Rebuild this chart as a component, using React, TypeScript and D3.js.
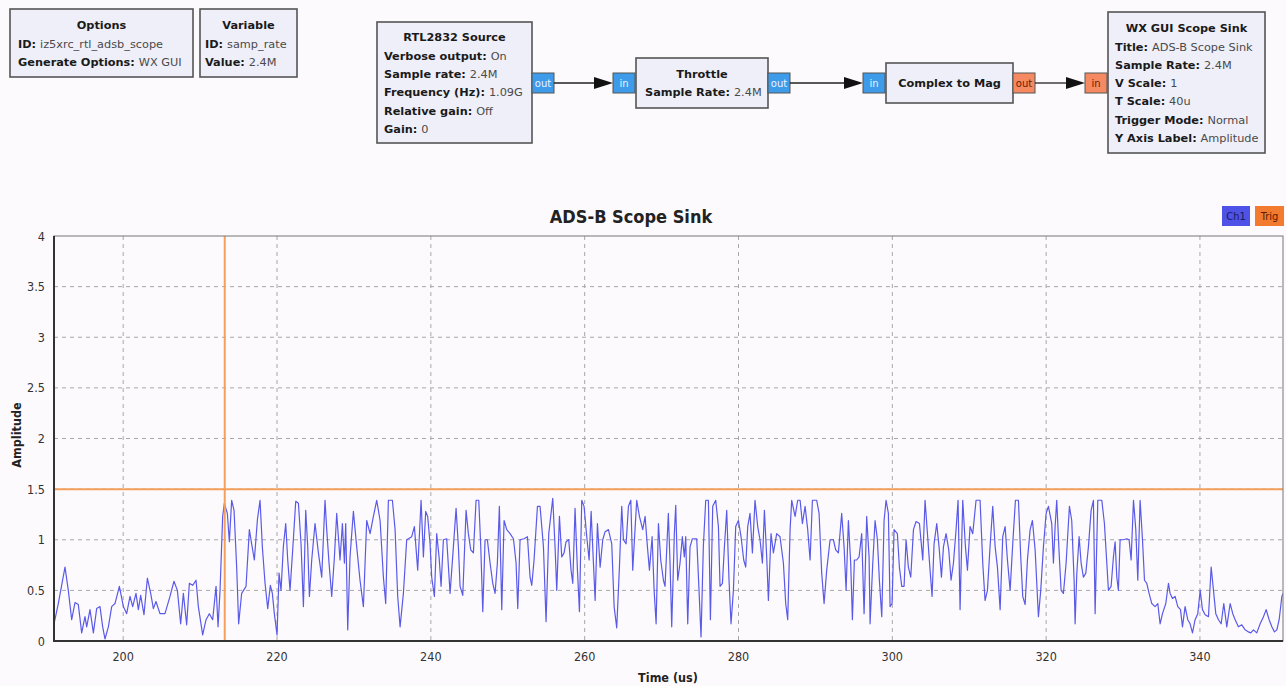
import * as d3 from 'd3'

// ---- flowgraph text ----
const optionsRows = [['ID', 'iz5xrc_rtl_adsb_scope'], ['Generate Options', 'WX GUI']]
const variableRows = [['ID', 'samp_rate'], ['Value', '2.4M']]
const sourceRows = [
  ['Verbose output', 'On'],
  ['Sample rate', '2.4M'],
  ['Frequency (Hz)', '1.09G'],
  ['Relative gain', 'Off'],
  ['Gain', '0'],
]
const throttleRows = [['Sample Rate', '2.4M']]
const sinkRows = [
  ['Title', 'ADS-B Scope Sink'],
  ['Sample Rate', '2.4M'],
  ['V Scale', '1'],
  ['T Scale', '40u'],
  ['Trigger Mode', 'Normal'],
  ['Y Axis Label', 'Amplitude'],
]

// ---- scope data ----
const xTicks = [200, 220, 240, 260, 280, 300, 320, 340]
const yTicks = [0, 0.5, 1, 1.5, 2, 2.5, 3, 3.5, 4]
const timeDomain = [191, 350.8]
const triggerTime = 213.2
const triggerLevel = 1.5

// Ch1 trace, [time us, amplitude]
const ch1A = [
  [191.0, 0.17], [191.56, 0.37], [192.43, 0.73], [192.86, 0.5], [193.3, 0.21], [193.73, 0.38], [194.16, 0.36],
  [194.6, 0.08], [195.03, 0.24], [195.25, 0.14], [195.68, 0.31], [196.12, 0.08], [196.55, 0.32], [196.98, 0.34],
  [197.33, 0.14], [197.63, 0.02], [198.07, 0.14], [198.5, 0.34], [198.93, 0.37], [199.5, 0.54], [200.02, 0.34],
  [200.45, 0.27], [200.88, 0.44], [201.23, 0.34], [201.66, 0.47], [201.97, 0.31], [202.27, 0.45], [202.7, 0.26],
  [203.14, 0.62], [203.57, 0.47], [203.92, 0.32], [204.26, 0.39], [204.78, 0.27], [205.43, 0.27], [206.08, 0.44],
  [206.6, 0.59], [207.04, 0.5], [207.47, 0.17], [207.82, 0.47], [208.25, 0.16], [208.6, 0.57], [209.03, 0.55],
  [209.47, 0.6], [209.77, 0.34], [210.33, 0.06], [210.77, 0.21], [211.2, 0.27], [211.63, 0.21], [212.07, 0.54],
  [212.33, 0.14], [212.59, 0.5], [212.93, 1.23], [213.15, 1.36], [213.54, 1.26], [213.8, 0.98], [214.1, 1.39],
  [214.41, 1.29], [214.75, 0.73], [215.01, 0.17], [215.4, 0.47], [215.97, 0.54], [216.4, 1.1], [216.7, 0.96],
  [217.05, 0.8], [217.45, 1.2],
]
const ch1B = [
  [217.79, 1.39], [218.09, 0.93], [218.44, 0.57], [218.79, 0.32], [219.13, 0.55], [219.39, 0.47], [219.65, 0.27],
  [220.0, 0.06], [220.26, 0.67], [220.52, 0.5], [220.82, 0.93], [221.13, 1.16], [221.39, 0.8], [221.69, 0.5],
  [222.12, 1.0], [222.43, 1.38], [222.78, 1.36], [223.12, 0.96], [223.43, 0.34], [223.73, 1.29], [223.99, 0.93],
  [224.21, 0.44], [224.51, 0.8], [224.94, 1.16], [225.38, 0.87], [225.81, 0.63], [226.24, 1.39], [226.46, 1.1],
  [226.76, 0.77], [227.11, 0.44], [227.46, 0.83], [227.76, 1.26], [228.19, 0.8], [228.5, 1.16], [228.76, 0.77],
  [228.93, 1.16], [229.19, 0.11], [229.49, 0.83], [229.93, 1.28], [230.36, 0.93], [230.79, 0.6], [231.23, 0.34],
  [231.66, 1.19], [232.1, 1.06], [232.53, 1.23], [232.96, 1.39], [233.4, 1.19], [233.83, 0.63], [234.13, 0.37],
  [234.48, 1.39], [235.0, 1.39], [235.35, 1.1], [235.69, 0.44], [236.0, 0.14], [236.43, 0.47], [236.86, 1.0],
  [237.51, 1.03], [237.86, 1.13], [238.29, 0.7], [238.73, 1.39], [239.03, 0.83], [239.33, 1.28], [239.59, 1.23],
  [239.9, 0.96], [240.11, 0.63], [240.46, 0.44], [240.76, 1.06], [241.07, 0.83], [241.33, 0.54], [241.63, 1.0],
  [242.06, 1.01], [242.5, 0.47], [242.93, 0.93], [243.28, 1.31], [243.58, 0.93],
]
const ch1C = [
  [243.8, 0.54], [244.15, 0.45], [244.58, 1.29], [244.88, 1.06], [245.19, 0.9], [245.53, 0.87], [245.88, 1.39],
  [246.23, 1.39], [246.49, 0.93], [246.75, 0.29], [247.05, 1.0], [247.35, 1.0], [247.7, 0.77], [248.05, 0.57],
  [248.35, 0.47], [248.65, 0.77], [248.91, 1.33], [249.22, 0.31], [249.52, 1.19], [249.87, 1.1], [250.3, 1.06],
  [250.74, 1.01], [251.08, 0.77], [251.3, 0.32], [251.6, 1.0], [252.12, 1.01], [252.56, 1.03], [252.9, 0.63],
  [253.12, 0.55], [253.42, 0.8], [253.86, 1.33], [254.2, 1.33], [254.64, 0.93], [254.98, 0.19], [255.33, 1.06],
  [255.85, 1.41], [256.15, 0.93], [256.37, 0.5], [256.72, 1.23], [257.02, 0.83], [257.32, 0.87], [257.58, 0.98],
  [257.93, 1.0], [258.23, 0.7], [258.45, 0.57], [258.75, 1.31], [259.06, 0.7], [259.32, 0.29], [259.62, 1.39],
  [259.92, 1.33], [260.27, 1.03], [260.58, 0.8], [260.84, 1.28], [261.14, 0.77], [261.36, 0.4], [261.66, 1.16],
  [262.01, 0.73], [262.35, 1.0], [262.66, 1.08], [263.09, 1.1], [263.52, 0.96], [263.83, 0.34], [264.17, 0.13],
  [264.52, 0.73], [264.82, 1.33], [265.04, 1.0], [265.39, 0.96], [265.69, 1.33], [266.0, 1.39], [266.25, 0.7],
  [266.47, 1.0], [266.77, 1.39], [267.12, 1.23], [267.55, 1.1], [267.86, 1.23], [268.16, 0.93], [268.42, 0.7],
  [268.77, 1.03], [269.03, 0.5], [269.29, 0.17], [269.59, 1.16], [269.89, 0.8], [270.24, 0.6],
]
const ch1D = [
  [270.45, 0.54], [270.88, 1.26], [271.1, 0.77], [271.32, 0.14], [271.66, 1.06], [271.84, 1.34], [272.1, 0.6],
  [272.4, 0.77], [272.7, 1.03], [272.96, 0.83], [273.14, 1.03], [273.4, 0.17], [273.7, 0.93], [274.0, 1.01],
  [274.57, 1.01], [274.87, 0.5], [275.13, 0.04], [275.43, 0.93], [275.74, 1.39], [276.09, 1.39], [276.35, 0.21],
  [276.65, 1.33], [277.04, 1.39], [277.39, 1.13], [277.6, 0.54], [277.91, 0.57], [278.17, 0.93], [278.47, 1.29],
  [278.77, 0.6], [279.03, 0.17], [279.34, 0.5], [279.64, 1.13], [279.99, 1.19], [280.33, 1.03], [280.68, 0.8],
  [280.94, 0.73], [281.2, 1.13], [281.5, 1.26], [281.81, 0.87], [282.15, 1.39], [282.5, 1.13], [282.8, 1.0],
  [283.11, 0.77], [283.37, 1.29], [283.67, 0.83], [283.89, 0.4], [284.23, 1.06], [284.54, 0.87], [284.97, 1.06],
  [285.4, 1.03], [285.84, 0.77], [286.14, 0.37], [286.4, 0.21], [286.71, 1.1], [286.92, 1.39], [287.36, 1.23],
  [287.7, 1.39], [288.01, 1.39], [288.31, 1.16], [288.66, 1.33], [289.0, 1.1], [289.31, 0.8], [289.61, 1.39],
  [290.17, 1.39], [290.48, 1.26], [290.82, 0.67], [291.13, 0.37], [291.47, 0.7], [291.91, 1.0], [292.34, 1.0],
  [292.64, 0.9], [292.99, 0.87], [293.42, 1.26], [293.73, 0.93], [293.99, 0.5], [294.29, 1.19], [294.59, 0.77],
  [294.81, 0.21], [295.07, 0.8], [295.37, 0.8], [295.68, 0.83], [296.02, 1.06], [296.33, 0.27], [296.67, 1.23],
  [296.98, 0.83],
]
const ch1E = [
  [297.11, 0.17], [297.46, 0.77], [297.76, 1.19], [298.06, 1.0], [298.32, 0.6], [298.63, 0.24], [298.93, 1.19],
  [299.19, 1.39], [299.49, 1.26], [299.71, 0.34], [299.97, 0.37], [300.23, 1.1], [300.66, 1.06], [300.92, 0.73],
  [301.23, 0.54], [301.53, 0.54], [301.79, 1.0], [302.09, 0.73], [302.4, 0.63], [302.75, 1.1], [303.09, 1.18],
  [303.53, 1.16], [303.96, 0.8], [304.26, 1.39], [304.57, 1.06], [304.91, 0.7], [305.17, 0.44], [305.43, 0.96],
  [305.78, 1.16], [306.08, 0.93], [306.39, 0.63], [306.65, 0.93], [306.99, 1.06], [307.34, 0.9], [307.64, 0.6],
  [307.95, 0.77], [308.29, 1.1], [308.55, 1.39], [308.81, 0.31], [309.16, 1.39], [309.51, 0.93], [309.77, 0.7],
  [310.11, 1.13], [310.46, 1.06], [310.89, 1.39], [311.41, 1.39], [311.76, 0.77], [312.06, 0.4], [312.37, 0.5],
  [312.71, 0.93], [313.06, 1.33], [313.37, 0.93], [313.67, 0.73], [314.02, 0.31], [314.36, 1.03], [314.67, 1.13],
  [314.97, 0.8], [315.32, 0.5], [315.66, 0.96], [316.01, 1.39], [316.4, 1.39], [316.7, 0.83], [316.96, 0.44],
  [317.27, 0.36], [317.57, 0.8], [317.92, 1.1], [318.22, 1.19], [318.57, 0.9], [319.0, 0.24], [319.3, 0.5],
  [319.65, 0.93], [320.0, 1.26], [320.3, 1.33], [320.73, 1.16], [320.95, 0.77], [321.17, 1.13], [321.38, 1.39],
  [321.69, 0.87], [321.95, 0.5], [322.25, 0.47], [322.6, 0.77], [323.03, 1.33], [323.33, 1.19], [323.64, 0.6],
]
const ch1F = [
  [323.77, 0.17], [323.99, 0.67], [324.29, 1.03], [324.55, 0.77], [324.85, 0.63], [325.16, 0.67], [325.5, 0.93],
  [325.85, 1.29], [326.15, 1.39], [326.37, 0.27], [326.72, 1.39], [327.24, 1.39], [327.58, 1.16], [327.89, 0.77],
  [328.1, 0.5], [328.45, 0.54], [328.75, 0.83], [328.97, 0.98], [329.19, 0.63], [329.4, 0.5], [329.62, 1.0],
  [330.06, 1.0], [330.49, 1.01], [330.79, 1.0], [331.05, 0.8], [331.36, 1.39], [331.66, 1.1], [331.92, 0.6],
  [332.22, 1.39], [332.53, 1.0], [332.79, 0.6], [333.09, 0.57], [333.39, 0.47], [333.74, 0.37], [334.17, 0.34],
  [334.52, 0.37], [334.82, 0.17], [335.13, 0.27], [335.56, 0.37], [335.91, 0.57], [336.12, 0.47], [336.43, 0.42],
  [336.77, 0.44], [337.12, 0.34], [337.47, 0.31], [337.73, 0.14], [338.07, 0.34], [338.42, 0.21], [338.72, 0.17],
  [339.03, 0.08], [339.37, 0.21], [339.72, 0.27], [340.03, 0.5], [340.33, 0.31], [340.68, 0.26], [341.11, 0.24],
  [341.46, 0.73], [341.76, 0.5], [342.06, 0.27], [342.41, 0.21], [342.76, 0.17], [343.1, 0.37], [343.49, 0.14],
  [343.93, 0.37], [344.27, 0.27], [344.58, 0.21], [345.01, 0.14], [345.44, 0.16], [345.88, 0.11], [346.31, 0.09],
  [346.61, 0.08], [346.96, 0.11], [347.39, 0.08], [347.83, 0.17], [348.26, 0.24], [348.61, 0.31], [349.0, 0.21],
  [349.35, 0.14], [349.69, 0.09], [350.0, 0.11], [350.3, 0.21], [350.65, 0.44], [350.82, 0.47],
]

const BLOCK_FONT = '"DejaVu Sans", sans-serif'
const PLOT_FONT = '"DejaVu Sans Condensed", "DejaVu Sans", sans-serif'

function Block({ x, y, w, h, title, titleY, rows, rowY, pad = 7 }) {
  return (
    <g fontFamily={BLOCK_FONT} fontSize={11.3}>
      <rect x={x} y={y} width={w} height={h} fill="#efeff9" stroke="#555" strokeWidth={1.6} />
      <text x={x + w / 2} y={titleY} textAnchor="middle" fontWeight="bold" fill="#1a1a1a">
        {title}
      </text>
      {rows.map(([k, v], i) => (
        <text key={k} x={x + pad} y={rowY + i * 18.2}>
          <tspan fontWeight="bold" fill="#1a1a1a">{k}: </tspan>
          <tspan fill="#4a4a4a">{v}</tspan>
        </text>
      ))}
    </g>
  )
}

function Port({ x, label, kind }) {
  const fill = kind === 'complex' ? '#3d9be9' : '#f58a62'
  const tc = kind === 'complex' ? '#eaf4ff' : '#6a1e00'
  return (
    <g>
      <rect x={x} y={73} width={22} height={20} fill={fill} stroke="#555" strokeWidth={1} />
      <text x={x + 11} y={87} textAnchor="middle" fontFamily={BLOCK_FONT} fontSize={10} fill={tc}>
        {label}
      </text>
    </g>
  )
}

function Arrow({ x1, x2 }) {
  return (
    <g>
      <line x1={x1} y1={83} x2={x2 - 18} y2={83} stroke="#222" strokeWidth={1.3} />
      <path d={`M${x2 - 19},77 L${x2},83 L${x2 - 19},89 Z`} fill="#111" />
    </g>
  )
}

export default function App() {
  const left = 54
  const right = 1283
  const top = 236
  const bottom = 641
  const x = d3.scaleLinear().domain(timeDomain).range([left, right])
  const y = d3.scaleLinear().domain([0, 4]).range([bottom, top])
  const trace = [...ch1A, ...ch1B, ...ch1C, ...ch1D, ...ch1E, ...ch1F]
  const line = d3
    .line()
    .x((d) => x(d[0]))
    .y((d) => y(d[1]))

  return (
    <svg
      width={1286}
      height={686}
      style={{ position: 'absolute', left: 0, top: 0, background: '#fdfafd' }}
    >
      <rect x={0} y={0} width={1286} height={686} fill="#fdfafd" />

      {/* flowgraph */}
      <Block x={10} y={9} w={183} h={68} title="Options" titleY={28.5} rows={optionsRows} rowY={47.5} pad={8} />
      <Block x={200} y={9} w={97} h={68} title="Variable" titleY={28.5} rows={variableRows} rowY={47.5} pad={5} />
      <Block x={377} y={22} w={155} h={121} title="RTL2832 Source" titleY={41} rows={sourceRows} rowY={60} />
      <Block x={636} y={58} w={132} h={50} title="Throttle" titleY={77.5} rows={throttleRows} rowY={96} pad={9} />
      <Block x={886} y={63} w={127} h={40} title="Complex to Mag" titleY={86.5} rows={[]} rowY={0} />
      <Block x={1108} y={12} w={157} h={141} title="WX GUI Scope Sink" titleY={31.5} rows={sinkRows} rowY={50.8} />

      <Port x={532} label="out" kind="complex" />
      <Arrow x1={554} x2={613} />
      <Port x={613} label="in" kind="complex" />
      <Port x={768} label="out" kind="complex" />
      <Arrow x1={790} x2={863} />
      <Port x={863} label="in" kind="complex" />
      <Port x={1013} label="out" kind="float" />
      <Arrow x1={1035} x2={1085} />
      <Port x={1085} label="in" kind="float" />

      {/* scope */}
      <text x={631} y={223} textAnchor="middle" fontFamily={PLOT_FONT} fontSize={18} fontWeight="bold" fill="#222">
        ADS-B Scope Sink
      </text>
      <rect x={1222} y={206} width={28} height={20} fill="#4f52e6" />
      <text x={1236} y={220} textAnchor="middle" fontFamily={PLOT_FONT} fontSize={11} fill="#1a1a60">Ch1</text>
      <rect x={1255} y={206} width={29} height={20} fill="#f27b30" />
      <text x={1269.5} y={220} textAnchor="middle" fontFamily={PLOT_FONT} fontSize={11} fill="#5a1a00">Trig</text>

      <g stroke="#a8a8a8" strokeWidth={1} strokeDasharray="4,4">
        {xTicks.map((t) => (
          <line key={t} x1={x(t)} x2={x(t)} y1={top} y2={bottom} />
        ))}
        {yTicks.slice(1, -1).map((v) => (
          <line key={v} x1={left} x2={right} y1={y(v)} y2={y(v)} />
        ))}
      </g>

      <defs>
        <clipPath id="plotclip">
          <rect x={left} y={top} width={right - left} height={bottom - top} />
        </clipPath>
      </defs>
      <g clipPath="url(#plotclip)">
        <path d={line(trace)} fill="none" stroke="#5a5ae8" strokeWidth={1.2} strokeLinejoin="round" />
        <line x1={left} x2={right} y1={y(triggerLevel)} y2={y(triggerLevel)} stroke="#f4a05c" strokeWidth={2} />
        <line x1={x(triggerTime)} x2={x(triggerTime)} y1={top} y2={bottom} stroke="#f4a05c" strokeWidth={2} />
      </g>

      <rect x={left} y={top} width={right - left} height={bottom - top} fill="none" stroke="#777" strokeWidth={1} />
      <line x1={left} x2={left} y1={top} y2={bottom + 1} stroke="#333" strokeWidth={2} />
      <line x1={left - 1} x2={right} y1={bottom} y2={bottom} stroke="#333" strokeWidth={2} />

      <g fontFamily={PLOT_FONT} fontSize={12.5} fill="#333">
        {xTicks.map((t) => (
          <text key={t} x={x(t)} y={661} textAnchor="middle">{t}</text>
        ))}
        {yTicks.map((v) => (
          <text key={v} x={45} y={y(v) + 4.5} textAnchor="end">{v}</text>
        ))}
      </g>
      <text x={668} y={682} textAnchor="middle" fontFamily={PLOT_FONT} fontSize={12.5} fontWeight="bold" fill="#222">
        Time (us)
      </text>
      <text
        transform="translate(21,435) rotate(-90)"
        textAnchor="middle"
        fontFamily={PLOT_FONT}
        fontSize={12.5}
        fontWeight="bold"
        fill="#222"
      >
        Amplitude
      </text>
    </svg>
  )
}
